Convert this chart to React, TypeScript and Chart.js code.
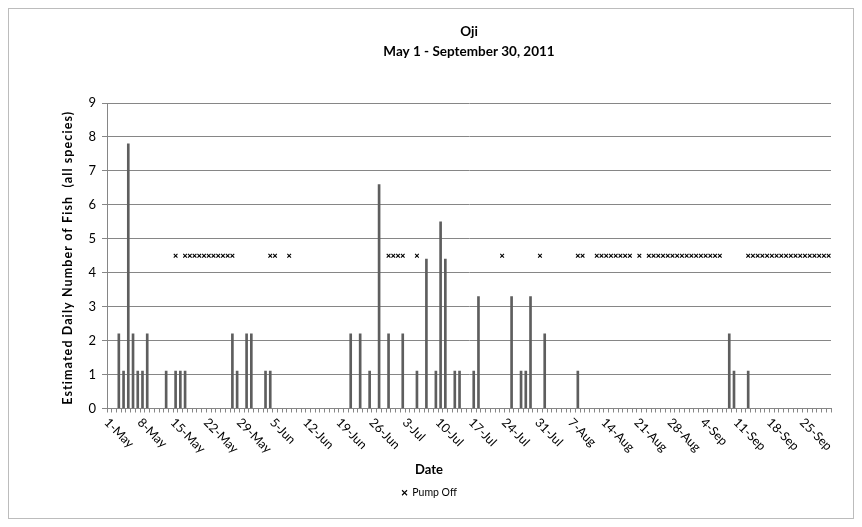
import { useEffect, useRef } from "react";
import { Chart, registerables } from "chart.js";

Chart.register(...registerables);

const FONT = "Lato, 'Liberation Sans', sans-serif";

// Categories: every day from 1 May to 30 Sep 2011
const MONTH_NAMES = ["Jan", "Feb", "Mar", "Apr", "May", "Jun", "Jul", "Aug", "Sep", "Oct", "Nov", "Dec"];
const START_DATE = new Date(2011, 4, 1);
const DAY_COUNT = 153;
const CATEGORIES: string[] = Array.from({ length: DAY_COUNT }, (_, i) => {
  const d = new Date(START_DATE.getFullYear(), START_DATE.getMonth(), START_DATE.getDate() + i);
  return `${d.getDate()}-${MONTH_NAMES[d.getMonth()]}`;
});

// Tick labels shown on the date axis (every 7th day)
const TICK_LABELS = [
  "1-May", "8-May", "15-May", "22-May", "29-May", "5-Jun", "12-Jun", "19-Jun", "26-Jun",
  "3-Jul", "10-Jul", "17-Jul", "24-Jul", "31-Jul", "7-Aug", "14-Aug", "21-Aug", "28-Aug",
  "4-Sep", "11-Sep", "18-Sep", "25-Sep",
];

// Estimated daily number of fish: day index (0 = 1-May) and value
const FISH_DAYS = [
  2, 3, 4, 5, 6, 7, 8, 12, 14, 15, 16, 26, 27, 29, 30, 33, 34,
  51, 53, 55, 57, 59, 62, 65, 67, 69, 70, 71, 73, 74, 77, 78,
  85, 87, 88, 89, 92, 99, 131, 132, 135,
];
const FISH_COUNTS = [
  2.2, 1.1, 7.8, 2.2, 1.1, 1.1, 2.2, 1.1, 1.1, 1.1, 1.1, 2.2, 1.1, 2.2, 2.2, 1.1, 1.1,
  2.2, 2.2, 1.1, 6.6, 2.2, 2.2, 1.1, 4.4, 1.1, 5.5, 4.4, 1.1, 1.1, 1.1, 3.3,
  3.3, 1.1, 1.1, 3.3, 2.2, 1.1, 2.2, 1.1, 1.1,
];

// Pump off days (day index) and marker level
const PUMP_OFF_DAYS = [
  14, 16, 17, 18, 19, 20, 21, 22, 23, 24, 25, 26,
  34, 35, 38,
  59, 60, 61, 62, 65,
  83, 91, 99, 100,
  103, 104, 105, 106, 107, 108, 109, 110, 112,
  114, 115, 116, 117, 118, 119, 120, 121, 122, 123, 124, 125, 126, 127, 128, 129,
  135, 136, 137, 138, 139, 140, 141, 142, 143, 144, 145, 146, 147, 148, 149, 150, 151, 152,
];
const PUMP_OFF_LEVEL = 4.5;

const X_TITLE = "Date";
const Y_TITLE = "Estimated Daily Number of Fish  (all species)";

export default function App() {
  const canvasRef = useRef<HTMLCanvasElement | null>(null);

  useEffect(() => {
    const canvas = canvasRef.current;
    if (!canvas) return;

    const fishSeries = CATEGORIES.map((_, i) => {
      const k = FISH_DAYS.indexOf(i);
      return k >= 0 ? FISH_COUNTS[k] : null;
    });
    const pumpSeries = CATEGORIES.map((_, i) => (PUMP_OFF_DAYS.includes(i) ? PUMP_OFF_LEVEL : null));

    const decorPlugin = {
      id: "decor",
      afterDraw(chart: any) {
        const { ctx, chartArea } = chart;
        const xScale = chart.scales.x;
        ctx.save();
        // outer border
        ctx.strokeStyle = "#bcbcbc";
        ctx.lineWidth = 1;
        ctx.strokeRect(0.5, 0.5, chart.width - 1, chart.height - 1);
        // rotated date labels
        ctx.fillStyle = "#000";
        ctx.font = `12.5px ${FONT}`;
        ctx.textAlign = "left";
        ctx.textBaseline = "middle";
        TICK_LABELS.forEach((lab) => {
          const idx = CATEGORIES.indexOf(lab);
          const x = xScale.getPixelForValue(idx);
          ctx.save();
          ctx.translate(x - 3, chartArea.bottom + 12);
          ctx.rotate(Math.PI / 4);
          ctx.fillText(lab, 0, 0);
          ctx.restore();
        });
        // x axis title
        ctx.font = `bold 13px ${FONT}`;
        ctx.textAlign = "center";
        ctx.textBaseline = "middle";
        ctx.fillText(X_TITLE, 421, 462);
        // y axis title
        ctx.save();
        ctx.translate(60, (chartArea.top + chartArea.bottom) / 2 + 2);
        ctx.rotate(-Math.PI / 2);
        ctx.font = `bold 12.5px ${FONT}`;
        (ctx as any).letterSpacing = "1.1px";
        ctx.fillText(Y_TITLE, 0, 0);
        ctx.restore();
        ctx.restore();
      },
    };

    const chart = new Chart(canvas, {
      type: "bar",
      data: {
        labels: CATEGORIES,
        datasets: [
          {
            type: "bar",
            label: "Fish",
            data: fishSeries,
            backgroundColor: "#5e5e5e",
            barThickness: 2,
            order: 2,
          } as any,
          {
            type: "line",
            label: "Pump Off",
            data: pumpSeries,
            showLine: false,
            pointStyle: "crossRot",
            pointRadius: 2.6,
            pointBorderWidth: 1.1,
            pointBorderColor: "#000",
            pointBackgroundColor: "#000",
            borderColor: "#000",
            backgroundColor: "#000",
            order: 1,
          } as any,
        ],
      },
      options: {
        animation: false,
        responsive: false,
        maintainAspectRatio: false,
        layout: { padding: { left: 20, right: 23, top: 14, bottom: 11 } },
        plugins: {
          title: {
            display: true,
            fullSize: false,
            text: ["Oji", "May 1 - September 30, 2011"],
            color: "#000",
            font: { family: FONT, size: 13.5, weight: "bold", lineHeight: 20 / 13.5 },
            padding: { top: 0, bottom: 41 },
          },
          legend: {
            position: "bottom",
            labels: {
              filter: (item: any) => item.text === "Pump Off",
              usePointStyle: true,
              boxWidth: 5,
              boxHeight: 5,
              color: "#000",
              font: { family: FONT, size: 10.5 },
              padding: 4,
            },
          },
          tooltip: { enabled: false },
        },
        scales: {
          x: {
            grid: {
              display: true,
              drawOnChartArea: false,
              offset: true,
              color: "#868686",
              tickLength: 4,
            },
            border: { color: "#868686" },
            ticks: { display: false, autoSkip: false },
            afterFit: (s: any) => {
              s.height = 75;
            },
          },
          y: {
            min: 0,
            max: 9,
            ticks: { stepSize: 1, color: "#000", font: { family: FONT, size: 13 }, padding: 6 },
            grid: { color: "#868686", tickLength: 5 },
            border: { color: "#868686" },
            afterFit: (s: any) => {
              s.width = 79;
            },
          },
        },
      } as any,
      plugins: [decorPlugin],
    });

    return () => chart.destroy();
  }, []);

  return (
    <div style={{ width: 846, height: 511 }}>
      <canvas ref={canvasRef} width={846} height={511} style={{ display: "block" }} />
    </div>
  );
}
